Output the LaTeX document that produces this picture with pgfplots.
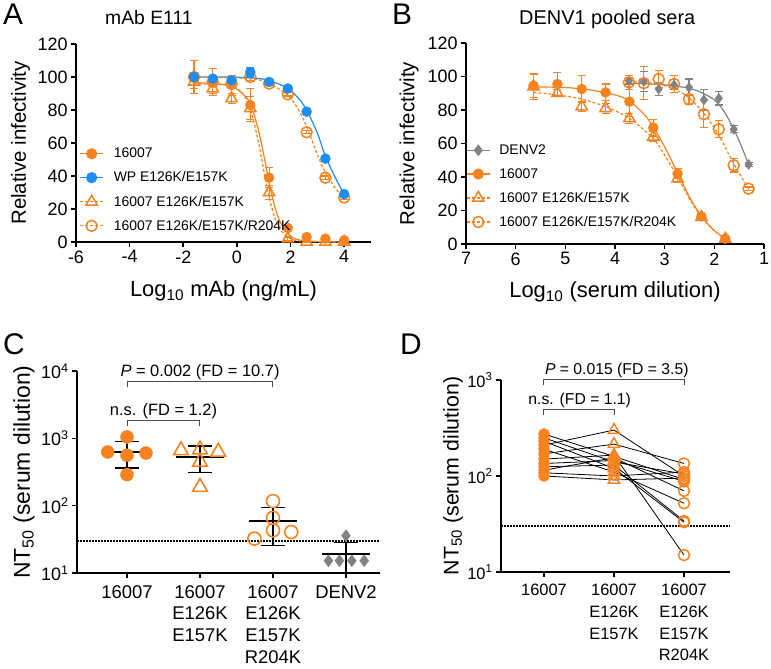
\documentclass[border=0pt]{standalone}
\usepackage{fontspec}
\setmainfont{Liberation Sans}
\usepackage{pgfplots}
\pgfplotsset{compat=1.18}
\definecolor{dorange}{RGB}{247,130,32}
\definecolor{dblue}{RGB}{30,140,240}
\definecolor{dgray}{RGB}{130,130,130}
\pgfplotsset{
  gp/.style={scale only axis, clip=false,
    axis x line*=bottom, axis y line*=left,
    hide obscured x ticks=false, hide obscured y ticks=false,
    tick align=outside, major tick length=5bp,
    axis line style={line width=1.6bp},
    major tick style={line width=1.6bp, black},
    /pgf/number format/assume math mode=true},
  eb/.style={error bars/.cd, y dir=both, y explicit,
    error bar style={line width=1.1bp},
    error mark options={rotate=90, mark size=4bp, line width=1.1bp}},
  fitline/.style={line width=1.2bp, no marks, smooth, forget plot},
  dfit/.style={line width=1.2bp, no marks, smooth, forget plot, dash pattern=on 3bp off 2bp},
  legimg/.style={legend image code/.code={\draw[mark repeat=2,mark phase=2] plot coordinates {(0bp,0bp)(11.5bp,0bp)(23bp,0bp)};}},
}
\begin{document}
\begin{tikzpicture}
\useasboundingbox (0,0) rectangle (771bp,669bp);
% panel letters and titles
\node[anchor=base west, font=\fontsize{30}{34}\selectfont, inner sep=0pt] at (3bp,644bp) {A};
\node[anchor=base west, font=\fontsize{30}{34}\selectfont, inner sep=0pt] at (392bp,644bp) {B};
\node[anchor=base west, font=\fontsize{30}{34}\selectfont, inner sep=0pt] at (3bp,314bp) {C};
\node[anchor=base west, font=\fontsize{30}{34}\selectfont, inner sep=0pt] at (400bp,314bp) {D};
\node[anchor=base west, font=\fontsize{19.4}{22}\selectfont, inner sep=0pt] at (105bp,644bp) {mAb E111};
\node[anchor=base west, font=\fontsize{20}{22}\selectfont, inner sep=0pt] at (519bp,644bp) {DENV1 pooled sera};

% ---------------- Panel A ----------------
\begin{axis}[gp, legimg, at={(76bp,427bp)}, anchor=south west, width=295bp, height=198bp,
  xmin=-6, xmax=5, ymin=0, ymax=120,
  xtick={-6,-4,-2,0,2,4}, ytick={0,20,40,60,80,100,120},
  tick label style={font=\fontsize{18}{20}\selectfont},
  xlabel={Log\textsubscript{10} mAb (ng/mL)}, ylabel={Relative infectivity},
  x label style={at={(axis description cs:0.5,0)}, anchor=base, yshift=-55bp, font=\fontsize{22}{24}\selectfont},
  y label style={at={(axis description cs:0,0.5)}, anchor=center, yshift=55.5bp, font=\fontsize{20.5}{24}\selectfont},
  legend cell align=left,
  legend style={at={(axis description cs:0.008,0.49)}, anchor=north west, draw=none, fill=none,
    font=\fontsize{14}{16}\selectfont, row sep=8.5bp, column sep=4bp, inner sep=1bp,
    nodes={inner xsep=6bp}},
]
\addlegendimage{dorange, line width=1.2bp, mark=*, mark size=5bp}
\addlegendentry{16007}
\addlegendimage{dblue, line width=1.2bp, mark=*, mark size=5bp}
\addlegendentry{WP E126K/E157K}
\addlegendimage{dorange, line width=1.2bp, dash pattern=on 3bp off 2bp, mark=triangle, mark size=6.5bp, mark options={solid, line width=1.5bp}}
\addlegendentry{16007 E126K/E157K}
\addlegendimage{dorange, line width=1.2bp, dash pattern=on 3bp off 2bp, mark=o, mark size=5.5bp, mark options={solid, line width=1.5bp}}
\addlegendentry{16007 E126K/E157K/R204K}
% fit curves
\addplot[fitline, dorange] coordinates {(-1.6,96.5)(-0.8,96)(-0.2,94.5)(0.2,90)(0.5,84)(0.8,68)(1.0,53)(1.2,36)(1.4,22.3)(1.6,12.6)(1.9,5)(2.2,1.8)(2.6,0.7)(3.3,0.2)(4.0,0)};
\addplot[dfit, dorange] coordinates {(-1.6,96)(-0.8,95.5)(-0.2,94.6)(0.2,90.3)(0.5,80.7)(0.8,61)(1.0,43.6)(1.2,27.3)(1.4,15.4)(1.6,8)(1.9,2.8)(2.2,1)(2.6,0.2)(3.3,0)(4.0,0)};
\addplot[fitline, dblue] coordinates {(-1.6,100)(-0.5,100)(0.5,99.5)(1.2,98)(1.9,93)(2.3,87)(2.6,80)(3.0,66)(3.3,52)(3.7,38)(4.0,29)};
\addplot[dfit, dorange] coordinates {(-1.6,100)(0.5,99)(1.2,96)(1.9,89)(2.3,80)(2.6,70)(3.0,53)(3.3,42)(3.7,32)(4.0,27)};
% data
\addplot[only marks, forget plot, dorange, mark=*, mark size=5bp, eb] coordinates {
(-1.6,100) +- (0,10) (-0.9,97) +- (0,8) (-0.2,95) +- (0,6) (0.5,83) +- (0,10) (1.2,39) +- (0,6)
(1.9,8.5) +- (0,1) (2.6,3) +- (0,1) (3.3,2) +- (0,1) (4.0,1) +- (0,0.5)};
\addplot[only marks, forget plot, dorange, mark=triangle, mark size=6.5bp, mark options={line width=1.5bp, fill=none}, eb] coordinates {
(-1.6,97) +- (0,4) (-0.9,93) +- (0,3) (-0.2,87) +- (0,3) (0.5,81) +- (0,7) (1.2,30) +- (0,4)
(1.9,2) +- (0,1) (2.6,0) +- (0,0) (3.3,0) +- (0,0) (4.0,0) +- (0,0)};
\addplot[only marks, forget plot, dorange, mark=o, mark size=5.5bp, mark options={line width=1.5bp}, eb] coordinates {
(-1.6,100) +- (0,2) (-0.9,97) +- (0,2) (-0.2,96) +- (0,2) (0.5,100) +- (0,2) (1.2,96) +- (0,1)
(1.9,89.5) +- (0,1) (2.6,66.5) +- (0,1) (3.3,39) +- (0,1) (4.0,27) +- (0,1)};
\addplot[only marks, forget plot, dblue, mark=*, mark size=5bp, eb] coordinates {
(-1.6,100) +- (0,1) (-0.9,99) +- (0,1) (-0.2,98) +- (0,1) (0.5,103) +- (0,3) (1.2,97) +- (0,1)
(1.9,93) +- (0,1) (2.6,79) +- (0,1) (3.3,50.5) +- (0,1) (4.0,29) +- (0,1)};
\end{axis}

% ---------------- Panel B ----------------
\begin{axis}[gp, legimg, at={(466bp,425bp)}, anchor=south west, width=298bp, height=201bp,
  xmin=1, xmax=7, ymin=0, ymax=120, x dir=reverse,
  xtick={1,2,3,4,5,6,7}, ytick={0,20,40,60,80,100,120},
  tick label style={font=\fontsize{18}{20}\selectfont},
  xlabel={Log\textsubscript{10} (serum dilution)}, ylabel={Relative infectivity},
  x label style={at={(axis description cs:0.5,0)}, anchor=base, yshift=-54bp, font=\fontsize{22}{24}\selectfont},
  y label style={at={(axis description cs:0,0.5)}, anchor=center, yshift=57bp, font=\fontsize{20.5}{24}\selectfont},
  legend cell align=left,
  legend style={at={(axis description cs:0,0.505)}, anchor=north west, draw=none, fill=none,
    font=\fontsize{14}{16}\selectfont, row sep=8.5bp, column sep=3bp, inner sep=0bp,
    nodes={inner xsep=6bp}},
]
\addlegendimage{dgray, line width=1.2bp, mark=diamond*, mark size=5bp}
\addlegendentry{DENV2}
\addlegendimage{dorange, line width=1.2bp, mark=*, mark size=5bp}
\addlegendentry{16007}
\addlegendimage{dorange, line width=1.2bp, dash pattern=on 3bp off 2bp, mark=triangle, mark size=6.5bp, mark options={solid, line width=1.5bp}}
\addlegendentry{16007 E126K/E157K}
\addlegendimage{dorange, line width=1.2bp, dash pattern=on 3bp off 2bp, mark=o, mark size=5.5bp, mark options={solid, line width=1.5bp}}
\addlegendentry{16007 E126K/E157K/R204K}
\addplot[fitline, dorange] coordinates {(5.64,93.8)(5.0,93.4)(4.5,92)(4.0,89)(3.71,85.5)(3.4,77)(3.23,70)(3.0,58)(2.74,42.5)(2.5,28)(2.26,16.5)(2.0,8)(1.78,3.2)};
\addplot[dfit, dorange] coordinates {(5.64,90.5)(5.16,89)(4.67,86.5)(4.19,82)(3.71,75)(3.23,63)(3.0,53)(2.74,40)(2.5,27)(2.26,16)(2.0,8)(1.78,3)};
\addplot[fitline, dgray] coordinates {(3.72,96)(3.4,95.7)(3.0,95)(2.6,93.5)(2.3,91)(2.0,86)(1.8,79)(1.6,68)(1.45,58)(1.31,47.5)};
\addplot[dfit, dorange] coordinates {(3.72,97)(3.4,96.5)(3.0,94.5)(2.7,91)(2.5,87)(2.21,78)(1.91,65)(1.61,48)(1.31,33)};
\addplot[only marks, forget plot, dgray, mark=diamond*, mark size=5bp, eb] coordinates {
(3.72,97.5) +- (0,2) (3.42,97) +- (0,6) (3.12,92.5) +- (0,4) (2.81,95) +- (0,3) (2.51,93.5) +- (0,5)
(2.21,86) +- (0,6) (1.91,87) +- (0,4) (1.61,68.5) +- (0,2) (1.31,47.5) +- (0,1)};
\addplot[only marks, forget plot, dorange, mark=*, mark size=5bp, eb] coordinates {
(5.64,94.5) +- (0,7) (5.16,95.5) +- (0,7) (4.67,92.5) +- (0,8) (4.19,90.5) +- (0,5) (3.71,85) +- (0,9)
(3.23,69.5) +- (0,5) (2.74,42) +- (0,3) (2.26,16.5) +- (0,1.5) (1.78,3.2) +- (0,1)};
\addplot[only marks, forget plot, dorange, mark=triangle, mark size=6.5bp, mark options={line width=1.5bp, fill=none}, eb] coordinates {
(5.64,94) +- (0,8) (5.16,90) +- (0,2) (4.67,82) +- (0,3) (4.19,81) +- (0,3) (3.71,75) +- (0,3)
(3.23,64) +- (0,3) (2.74,39) +- (0,2) (2.26,16) +- (0,1) (1.78,3) +- (0,1)};
\addplot[only marks, forget plot, dorange, mark=o, mark size=5.5bp, mark options={line width=1.5bp}, eb] coordinates {
(3.72,96.5) +- (0,4) (3.42,96) +- (0,10) (3.12,98.5) +- (0,5) (2.81,95.5) +- (0,5) (2.51,86.5) +- (0,3)
(2.21,77.5) +- (0,8) (1.91,68.5) +- (0,5) (1.61,47) +- (0,4) (1.31,33) +- (0,1)};
\end{axis}

% ---------------- Panel C ----------------
\begin{axis}[gp, at={(77bp,96bp)}, anchor=south west, width=303bp, height=202bp,
  ymode=log, ymin=10, ymax=10000, xmin=0.315, xmax=4.466, yminorticks=false,
  xtick={1,2,3,4}, xticklabels={16007,{16007\\E126K\\E157K},{16007\\E126K\\E157K\\R204K},DENV2},
  x tick label style={align=center, yshift=-4bp, font=\fontsize{18.5}{21.7}\selectfont},
  ytick={10,100,1000,10000},
  yticklabels={10\textsuperscript{1},10\textsuperscript{2},10\textsuperscript{3},10\textsuperscript{4}},
  y tick label style={font=\fontsize{18}{21}\selectfont},
  ylabel={NT\textsubscript{50} (serum dilution)},
  y label style={at={(axis description cs:0,0.5)}, anchor=center, yshift=53bp, font=\fontsize{23}{26}\selectfont},
]
\addplot[black, dash pattern=on 1.5bp off 1.5bp, line width=1.5bp] coordinates {(0.315,30)(4.466,30)};
% mean and SD
\addplot[black, line width=2bp] coordinates {(0.67,630)(1.33,630)};
\addplot[black, line width=1.2bp] coordinates {(1,363)(1,901)};
\addplot[black, line width=1.2bp] coordinates {(0.84,901)(1.16,901)};
\addplot[black, line width=1.2bp] coordinates {(0.84,363)(1.16,363)};
\addplot[black, line width=2bp] coordinates {(1.67,537)(2.33,537)};
\addplot[black, line width=1.2bp] coordinates {(2,309)(2,769)};
\addplot[black, line width=1.2bp] coordinates {(1.83,769)(2.17,769)};
\addplot[black, line width=1.2bp] coordinates {(1.83,309)(2.17,309)};
\addplot[black, line width=2bp] coordinates {(2.67,59)(3.33,59)};
\addplot[black, line width=1.2bp] coordinates {(3,25.8)(3,93.4)};
\addplot[black, line width=1.2bp] coordinates {(2.83,93.4)(3.17,93.4)};
\addplot[black, line width=1.2bp] coordinates {(2.83,25.8)(3.17,25.8)};
\addplot[black, line width=2bp] coordinates {(3.67,19.4)(4.33,19.4)};
\addplot[black, line width=1.2bp] coordinates {(4,10)(4,28.6)};
\addplot[black, line width=1.2bp] coordinates {(3.83,28.6)(4.17,28.6)};
% points
\addplot[only marks, dorange, mark=*, mark size=6.5bp] coordinates {(0.735,627)(1,1047)(1,560)(1.26,605)(1,289)};
\addplot[only marks, dorange, mark=triangle, mark size=8.5bp, mark options={line width=1.6bp}] coordinates {(1.74,661)(2,680)(2,446)(2.25,630)(2,189)};
\addplot[only marks, dorange, mark=o, mark size=6.5bp, mark options={line width=1.6bp}] coordinates {(3,117)(3,66)(2.745,32.4)(3,43)(3.25,40.6)};
\addplot[only marks, dgray, mark=diamond*, mark size=6bp] coordinates {(4,35.8)(3.76,15.2)(3.91,15.2)(4.08,15.2)(4.25,15.2)};
% brackets
\draw[line width=1bp, black!70] (axis cs:1,5800) -- (axis cs:1,6918) -- (axis cs:3,6918) -- (axis cs:3,5800);
\node[anchor=south, font=\fontsize{16.5}{18}\selectfont, inner sep=2bp] at (axis cs:2,6918) {\textit{P} = 0.002 (FD = 10.7)};
\draw[line width=1bp, black!70] (axis cs:1,1550) -- (axis cs:1,1832) -- (axis cs:2,1832) -- (axis cs:2,1550);
\node[anchor=south, font=\fontsize{16.5}{18}\selectfont, inner sep=2bp] at (axis cs:1.5,1832) {n.s. (FD = 1.2)};
\end{axis}

% ---------------- Panel D ----------------
\begin{axis}[gp, at={(501bp,97bp)}, anchor=south west, width=229bp, height=192bp,
  ymode=log, ymin=10, ymax=1000, xmin=0.386, xmax=3.657, yminorticks=false,
  xtick={1,2,3}, xticklabels={16007,{16007\\E126K\\E157K},{16007\\E126K\\E157K\\R204K}},
  x tick label style={align=center, yshift=-4bp, font=\fontsize{16.5}{21.7}\selectfont},
  ytick={10,100,1000},
  yticklabels={10\textsuperscript{1},10\textsuperscript{2},10\textsuperscript{3}},
  y tick label style={font=\fontsize{16.5}{19}\selectfont},
  ylabel={NT\textsubscript{50} (serum dilution)},
  y label style={at={(axis description cs:0,0.5)}, anchor=center, yshift=48bp, font=\fontsize{21.4}{24}\selectfont},
]
\addplot[black, dash pattern=on 1.5bp off 1.5bp, line width=1.5bp] coordinates {(0.386,30)(3.657,30)};
\addplot[black, line width=0.8bp] coordinates {(1,274)(2,160)(3,92)};
\addplot[black, line width=0.8bp] coordinates {(1,250)(2,140)(3,105)};
\addplot[black, line width=0.8bp] coordinates {(1,230)(2,120)(3,33)};
\addplot[black, line width=0.8bp] coordinates {(1,210)(2,301)(3,100)};
\addplot[black, line width=0.8bp] coordinates {(1,190)(2,110)(3,52)};
\addplot[black, line width=0.8bp] coordinates {(1,170)(2,215)(3,135)};
\addplot[black, line width=0.8bp] coordinates {(1,150)(2,165)(3,15)};
\addplot[black, line width=0.8bp] coordinates {(1,135)(2,145)(3,88)};
\addplot[black, line width=0.8bp] coordinates {(1,125)(2,130)(3,34)};
\addplot[black, line width=0.8bp] coordinates {(1,115)(2,155)(3,70)};
\addplot[black, line width=0.8bp] coordinates {(1,108)(2,100)(3,110)};
\addplot[black, line width=0.8bp] coordinates {(1,100)(2,91)(3,95)};
\addplot[only marks, dorange, mark=*, mark size=5.5bp] coordinates {(1,274)(1,250)(1,230)(1,210)(1,190)(1,170)(1,150)(1,135)(1,125)(1,115)(1,108)(1,100)};
\addplot[only marks, dorange, mark=triangle, mark size=6.5bp, mark options={line width=1.5bp}] coordinates {(2,160)(2,140)(2,120)(2,301)(2,110)(2,215)(2,165)(2,145)(2,130)(2,155)(2,100)(2,91)};
\addplot[only marks, dorange, mark=o, mark size=5.5bp, mark options={line width=1.5bp}] coordinates {(3,92)(3,105)(3,33)(3,100)(3,52)(3,135)(3,15)(3,88)(3,34)(3,70)(3,110)(3,95)};
\draw[line width=1bp, black!70] (axis cs:1,887) -- (axis cs:1,1000) -- (axis cs:3,1000) -- (axis cs:3,887);
\node[anchor=south, font=\fontsize{15.8}{18}\selectfont, inner sep=2bp] at (axis cs:2.04,1000) {\textit{P} = 0.015 (FD = 3.5)};
\draw[line width=1bp, black!70] (axis cs:1,432) -- (axis cs:1,488) -- (axis cs:2,488) -- (axis cs:2,432);
\node[anchor=south, font=\fontsize{15.8}{18}\selectfont, inner sep=2bp] at (axis cs:1.51,488) {n.s. (FD = 1.1)};
\end{axis}
\end{tikzpicture}
\end{document}
